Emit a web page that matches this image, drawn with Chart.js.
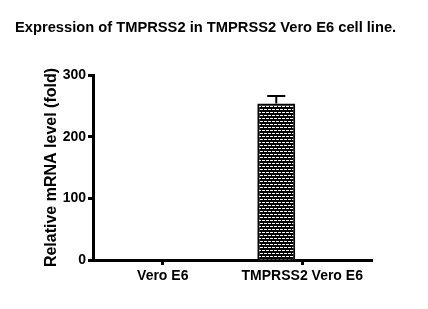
<!DOCTYPE html>
<html>
<head>
<meta charset="utf-8">
<script src="https://cdn.jsdelivr.net/npm/chart.js@4.4.0/dist/chart.umd.min.js"></script>
<style>
  html, body { margin: 0; padding: 0; background: #fff; }
  #wrap { width: 428px; height: 309px; }
</style>
</head>
<body>
<div id="wrap"><canvas id="chart" width="428" height="309"></canvas></div>
<script>
// Data
const categories = ['Vero E6', 'TMPRSS2 Vero E6'];
const foldValues = [1, 254];
const foldErrors = [0, 12];
const yTickValues = [0, 100, 200, 300];

Chart.defaults.font.family = '"Liberation Sans", Arial, sans-serif';
Chart.defaults.color = '#000';

// Dotted black fill like the GraphPad bar
function makeHatch() {
    const c = document.createElement('canvas');
    c.width = 4;
    c.height = 6;
    const g = c.getContext('2d');
    g.fillStyle = '#000';
    g.fillRect(0, 0, 4, 6);
    g.fillStyle = '#fff';
    g.fillRect(0, 1, 3, 1);
    g.fillRect(2, 4, 2, 1);
    g.fillRect(0, 4, 1, 1);
    return g.createPattern(c, 'repeat');
}

// Error bars (mean + error), drawn above each bar
const errorBars = {
    id: 'errorBars',
    afterDatasetsDraw(chart) {
        const meta = chart.getDatasetMeta(0);
        const yScale = chart.scales.y;
        const ctx = chart.ctx;
        ctx.save();
        ctx.strokeStyle = '#000';
        ctx.lineWidth = 2;
        meta.data.forEach((bar, i) => {
            if (!foldErrors[i]) return;
            const top = yScale.getPixelForValue(foldValues[i] + foldErrors[i]);
            ctx.beginPath();
            ctx.moveTo(bar.x, bar.y);
            ctx.lineTo(bar.x, top);
            ctx.moveTo(bar.x - 9, top);
            ctx.lineTo(bar.x + 9, top);
            ctx.stroke();
        });
        ctx.restore();
    }
};

const tickFont = { size: 14, weight: 'bold' };

new Chart(document.getElementById('chart').getContext('2d'), {
    type: 'bar',
    data: {
        labels: categories,
        datasets: [{
            label: 'Relative mRNA level',
            data: foldValues,
            backgroundColor: makeHatch(),
            borderColor: '#000',
            borderWidth: 2,
            barPercentage: 0.73,
            categoryPercentage: 0.745
        }, {
            // empty slot: GraphPad draws the bar left of the tick
            label: '',
            data: [null, null],
            barPercentage: 0.73,
            categoryPercentage: 0.745
        }]
    },
    options: {
        responsive: false,
        animation: false,
        layout: { padding: { left: 15, right: 0, top: 0, bottom: 0 } },
        plugins: {
            legend: { display: false },
            tooltip: { enabled: false },
            title: {
                display: true,
                text: 'Expression of TMPRSS2 in TMPRSS2 Vero E6 cell line.',
                align: 'start',
                color: '#000',
                font: { size: 14.7, weight: 'bold' },
                padding: { top: 19, bottom: 38.4 }
            }
        },
        scales: {
            x: {
                offset: true,
                grid: {
                    offset: false,
                    drawOnChartArea: false,
                    drawTicks: true,
                    tickLength: 5,
                    tickWidth: 3,
                    color: '#000'
                },
                border: { display: true, color: '#000', width: 3 },
                ticks: { color: '#000', font: tickFont, padding: 3, maxRotation: 0, autoSkip: false },
                afterFit: (s) => { s.height = 49; }
            },
            y: {
                min: 0,
                max: 300,
                afterBuildTicks: (s) => { s.ticks = yTickValues.map(v => ({ value: v })); },
                grid: {
                    drawOnChartArea: false,
                    drawTicks: true,
                    tickLength: 5,
                    tickWidth: 3,
                    color: '#000'
                },
                border: { display: true, color: '#000', width: 3 },
                ticks: { color: '#000', font: tickFont, padding: 2 },
                title: {
                    display: true,
                    text: 'Relative mRNA level (fold)',
                    color: '#000',
                    font: { size: 16, weight: 'bold' },
                    padding: { top: 26.5, bottom: 0 }
                },
                afterFit: (s) => { s.width = 78; }
            },
            spacer: {
                type: 'linear',
                position: 'right',
                display: true,
                grid: { display: false },
                border: { display: false },
                ticks: { display: false },
                afterFit: (s) => { s.width = 56; }
            }
        }
    },
    plugins: [errorBars]
});
</script>
</body>
</html>
